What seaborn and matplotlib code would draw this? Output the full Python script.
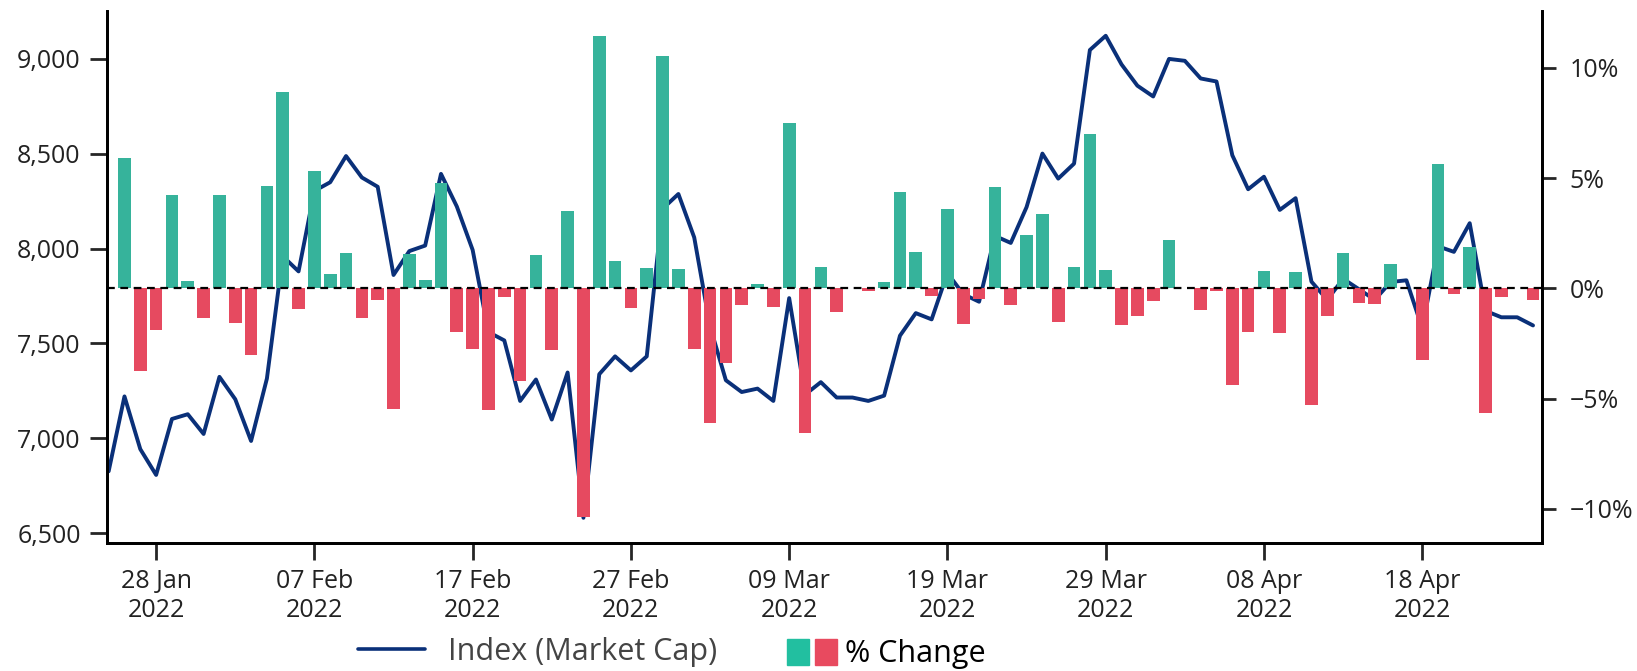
import matplotlib
matplotlib.use("Agg")
import numpy as np
import pandas as pd
import matplotlib.pyplot as plt
import matplotlib.dates as mdates
import seaborn as sns
from matplotlib.lines import Line2D
from matplotlib.patches import Patch
from matplotlib.legend_handler import HandlerTuple
from matplotlib.ticker import FuncFormatter, FixedLocator

# daily index level, 25 Jan -> 25 Apr 2022
dates = pd.date_range("2022-01-25", "2022-04-25", freq="D")
index_values = [
    6826, 7221, 6943, 6807, 7102, 7127, 7023, 7324, 7206, 6986,
    7315, 7960, 7880, 8304, 8350, 8488, 8375, 8326, 7861, 7987,
    8016, 8394, 8222, 7993, 7560, 7516, 7197, 7310, 7099, 7347,
    6581, 7338, 7432, 7358, 7432, 8210, 8288, 8059, 7590, 7306,
    7244, 7262, 7197, 7739, 7230, 7296, 7215, 7215, 7197, 7225,
    7541, 7660, 7627, 7871, 7760, 7720, 8067, 8030, 8219, 8501,
    8369, 8448, 9047, 9122, 8971, 8859, 8802, 9000, 8990, 8897,
    8881, 8492, 8313, 8379, 8204, 8266, 7826, 7730, 7841, 7786,
    7730, 7824, 7833, 7580, 8012, 7983, 8134, 7672, 7638, 7638,
    7595,
]
# daily % change, from 26 Jan
pct_change = [
    5.93, -3.75, -1.89, 4.25, 0.34, -1.36, 4.25, -1.57, -3.04, 4.65,
    8.89, -0.95, 5.30, 0.66, 1.61, -1.33, -0.55, -5.48, 1.58, 0.37,
    4.77, -2.00, -2.75, -5.53, -0.41, -4.20, 1.53, -2.78, 3.52, -10.37,
    11.44, 1.24, -0.87, 0.94, 10.55, 0.89, -2.73, -6.09, -3.39, -0.76,
    0.21, -0.84, 7.51, -6.58, 0.97, -1.08, 0.00, -0.12, 0.29, 4.36,
    1.65, -0.36, 3.60, -1.60, -0.48, 4.60, -0.76, 2.44, 3.36, -1.52,
    0.97, 7.00, 0.85, -1.65, -1.25, -0.57, 2.21, 0.00, -1.00, -0.12,
    -4.36, -1.97, 0.78, -2.02, 0.74, -5.28, -1.25, 1.61, -0.68, -0.71,
    1.10, 0.00, -3.23, 5.65, -0.24, 1.87, -5.66, -0.41, 0.00, -0.52,
]
tick_dates = pd.to_datetime(["2022-01-28", "2022-02-07", "2022-02-17", "2022-02-27",
                             "2022-03-09", "2022-03-19", "2022-03-29", "2022-04-08",
                             "2022-04-18"])
left_ticks = [6500, 7000, 7500, 8000, 8500, 9000]
right_ticks = [-10, -5, 0, 5, 10]

LINE = "#0a3079"
TEAL = "#36b39b"
RED = "#e64a60"
TEXT = "#222222"

sns.set_style("ticks")
plt.rcParams['font.family'] = ['Open Sans', 'DejaVu Sans']

fig = plt.figure(figsize=(16.37, 6.71), dpi=100)
ax = fig.add_axes([0.0654, 0.191, 0.8764, 0.793])
ax2 = ax.twinx()

x = mdates.date2num(dates)
sns.lineplot(x=x, y=index_values, ax=ax, color=LINE, linewidth=2.8)

pct = np.array(pct_change)
df_bar = pd.DataFrame({"x": x[1:], "pct": pct, "dir": np.where(pct >= 0, "up", "down")})
sns.barplot(data=df_bar, x="x", y="pct", hue="dir", palette={"up": TEAL, "down": RED},
            native_scale=True, dodge=False, errorbar=None, legend=False,
            saturation=1, width=0.8, linewidth=0, ax=ax2)
ax2.axhline(0, color="black", lw=1.6, ls=(0, (3.5, 2.5)))

ax.set_ylim(6449, 9254)
ax2.set_ylim(-11.54, 12.59)
ax.set_yticks(left_ticks)
ax2.set_yticks(right_ticks)
ax.yaxis.set_major_formatter(FuncFormatter(lambda v, p: f"{v:,.0f}"))
ax2.yaxis.set_major_formatter(FuncFormatter(lambda v, p: f"{v:.0f}%".replace("-", "\u2212")))

ax.set_xlim(x[0] - 0.1, x[-1] + 0.55)
ax.xaxis.set_major_locator(FixedLocator(mdates.date2num(tick_dates)))
ax.xaxis.set_major_formatter(mdates.DateFormatter("%d %b\n%Y"))

for a in (ax, ax2):
    a.set_xlabel("")
    a.set_ylabel("")
    a.spines["top"].set_visible(False)
    for s in ("left", "right", "bottom"):
        a.spines[s].set_linewidth(2)
        a.spines[s].set_color("black")

ax.tick_params(axis="both", length=12, width=2, labelsize=18, pad=7, labelcolor=TEXT)
ax2.tick_params(axis="y", length=10, width=2, labelsize=18, pad=10, labelcolor=TEXT)

leg1 = fig.legend(handles=[Line2D([], [], color=LINE, lw=2.6)], labels=["Index (Market Cap)"],
                  loc="center left", bbox_to_anchor=(358 / 1637, 1 - 652 / 671),
                  frameon=False, fontsize=22, handlelength=2.2, handletextpad=0.75,
                  borderpad=0, borderaxespad=0)
leg1.get_texts()[0].set_color("#444444")
leg2 = fig.legend(handles=[(Patch(color="#22bfa0"), Patch(color="#e84a5f"))], labels=["% Change"],
                  handler_map={tuple: HandlerTuple(ndivide=None, pad=0.2)},
                  loc="center left", bbox_to_anchor=(787 / 1637, 1 - 654 / 671),
                  frameon=False, fontsize=22, handlelength=1.65, handleheight=0.95,
                  handletextpad=0.25, borderpad=0, borderaxespad=0)
leg2.get_texts()[0].set_color("black")

fig.savefig("out.png", dpi=100)
